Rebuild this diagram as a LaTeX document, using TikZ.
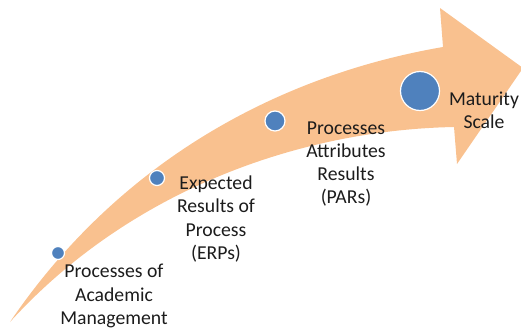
\documentclass[tikz,border=0pt]{standalone}
\usepackage{fontspec}
\setmainfont{Carlito}
\definecolor{arroworange}{HTML}{F9C18F}
\definecolor{dotblue}{HTML}{4F81BD}
\definecolor{labeltext}{HTML}{1C1C1C}
\tikzset{
  stage/.style={circle, fill=dotblue, draw=white, line width=1.2pt, inner sep=0pt},
  stagelabel/.style={align=center, text=labeltext, inner sep=0pt,
    font=\fontsize{19.7}{23.3}\selectfont}
}
\begin{document}
\begin{tikzpicture}[x=1pt, y=-1pt]
    \useasboundingbox (0,0) rectangle (521,332);

    % curved arrow
    \fill[arroworange] (10,322) .. controls (120,160) and (280,75) .. (443,47)
      -- (440,8) -- (523,68) -- (457,164) -- (454,127)
      .. controls (300,130) and (130,190) .. (10,322) -- cycle;

    % stages along the arrow
    \node[stage, minimum size=13pt] (pam) at (58,253) {};
    \node[stage, minimum size=15pt] (erp) at (157,178) {};
    \node[stage, minimum size=20pt] (par) at (275,121) {};
    \node[stage, minimum size=39pt] (mat) at (420,91) {};

    \node[stagelabel] (pamtext) at (114,296) {Processes of\\Academic\\Management};
    \node[stagelabel] (erptext) at (216,219) {Expected\\Results of\\Process\\(ERPs)};
    \node[stagelabel] (partext) at (346,164) {Processes\\Attributes\\Results\\(PARs)};
    \node[stagelabel] (mattext) at (484,110) {Maturity\\Scale};
  \end{tikzpicture}
\end{document}
